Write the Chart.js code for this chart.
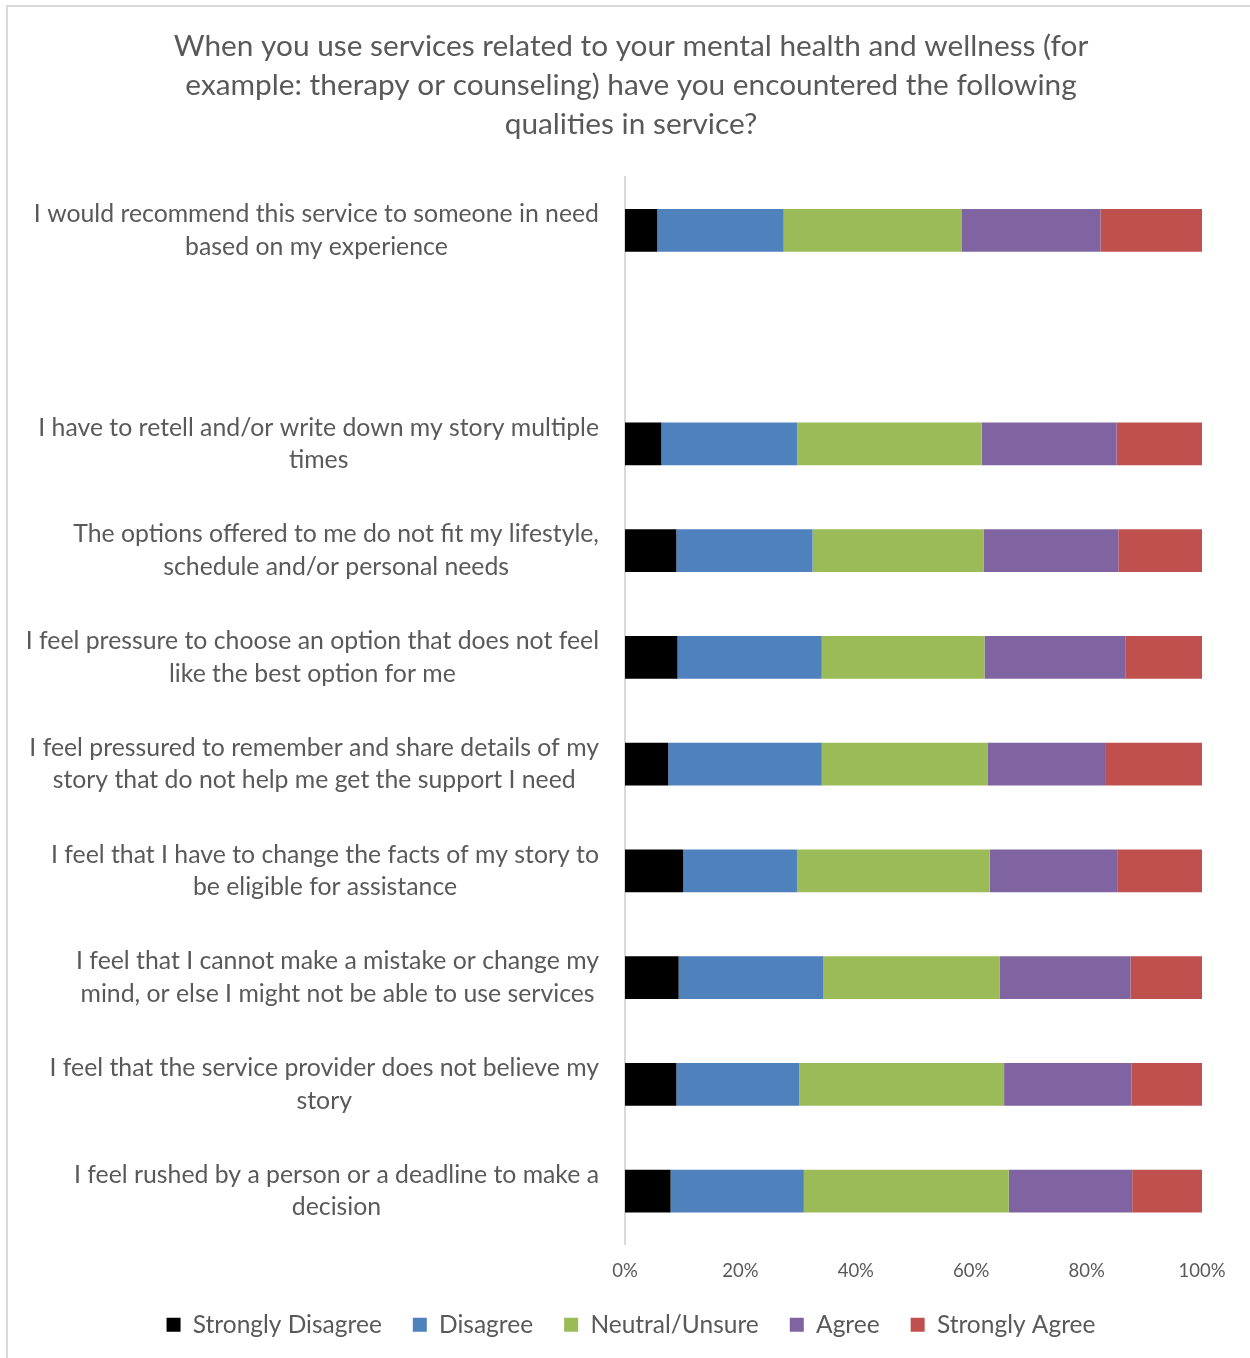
<!DOCTYPE html>
<html>
<head>
<meta charset="utf-8">
<script src="https://cdn.jsdelivr.net/npm/chart.js@4"></script>
<style>
  html, body { margin: 0; padding: 0; background: #fff; overflow: hidden; }
  #wrap { position: relative; width: 1250px; height: 1358px; }
  #marco { position: absolute; left: 6px; top: 5px; width: 1300px; height: 1400px; border: 2px solid #d9d9d9; }
  #grafico { position: absolute; left: 0; top: 0; }
</style>
</head>
<body>
<div id="wrap">
  <div id="marco"></div>
  <canvas id="grafico" width="1250" height="1358"></canvas>
</div>
<script>
// Titulo del grafico
const titulo = [
  "When you use services related to your mental health and wellness (for",
  "example: therapy or counseling) have you encountered the following",
  "qualities in service?"
];

// Categorias (la segunda queda vacia, como en el original)
const categorias = [
  ["I would recommend this service to someone in need", "based on my experience"],
  [],
  ["I have to retell and/or write down my story multiple", "times"],
  ["The options offered to me do not fit my lifestyle,", "schedule and/or personal needs"],
  ["I feel pressure to choose an option that does not feel", "like the best option for me"],
  ["I feel pressured to remember and share details of my", "story that do not help me get the support I need"],
  ["I feel that I have to change the facts of my story to", "be eligible for assistance"],
  ["I feel that I cannot make a mistake or change my", "mind, or else I might not be able to use services"],
  ["I feel that the service provider does not believe my", "story"],
  ["I feel rushed by a person or a deadline to make a", "decision"]
];

const series = ["Strongly Disagree", "Disagree", "Neutral/Unsure", "Agree", "Strongly Agree"];

// Porcentajes por serie
const stronglyDisagree = [5.6, null, 6.3, 8.9, 9.1, 7.5, 10.1, 9.3, 8.9, 7.9];
const disagree         = [21.9, null, 23.5, 23.6, 25.0, 26.6, 19.7, 25.1, 21.3, 23.1];
const neutral          = [30.8, null, 32.0, 29.7, 28.2, 28.8, 33.4, 30.5, 35.5, 35.5];
const agree            = [24.1, null, 23.4, 23.3, 24.4, 20.3, 22.1, 22.7, 22.1, 21.4];
const stronglyAgree    = [17.6, null, 14.8, 14.5, 13.3, 16.8, 14.7, 12.4, 12.2, 12.1];

const colores = ["#000000", "#4F81BD", "#9BBB59", "#8064A2", "#C0504D"];
const gris = "#595959";
const fuente = "Lato";

document.addEventListener("DOMContentLoaded", function () {
  grafico();
});

// Dibuja las etiquetas del eje Y: bloque alineado a la derecha, lineas centradas
const etiquetasY = {
  id: "etiquetasY",
  afterDraw(chart) {
    const ctx = chart.ctx;
    const yScale = chart.scales.y;
    ctx.save();
    ctx.font = "24.8px " + fuente;
    ctx.fillStyle = gris;
    ctx.textAlign = "center";
    ctx.textBaseline = "middle";
    const derecha = yScale.right - 26;
    categorias.forEach((lineas, i) => {
      if (!lineas.length) return;
      const yc = yScale.getPixelForValue(i);
      const ancho = Math.max(...lineas.map((l) => ctx.measureText(l).width));
      const cx = derecha - ancho / 2;
      lineas.forEach((l, j) => {
        ctx.fillText(l, cx, yc + (j - (lineas.length - 1) / 2) * 32.5);
      });
    });
    ctx.restore();
  }
};

function grafico() {
  Chart.defaults.font.family = fuente;
  const ctx = document.getElementById("grafico").getContext("2d");
  const valores = [stronglyDisagree, disagree, neutral, agree, stronglyAgree];

  new Chart(ctx, {
    type: "bar",
    data: {
      labels: categorias.map((l) => l.join(" ")),
      datasets: series.map((nombre, k) => ({
        label: nombre,
        data: valores[k],
        backgroundColor: colores[k],
        borderWidth: 0,
        categoryPercentage: 0.4,
        barPercentage: 1.0
      }))
    },
    options: {
      indexAxis: "y",
      responsive: false,
      animation: false,
      layout: { padding: { top: 0, right: 48, bottom: 11, left: 60 } },
      scales: {
        x: {
          stacked: true,
          min: 0,
          max: 100,
          grid: { display: false, drawTicks: false },
          border: { display: false },
          ticks: {
            stepSize: 20,
            color: gris,
            font: { size: 18.5 },
            padding: 15,
            callback: (v) => v + "%"
          },
          afterFit: (scale) => { scale.height = 37; }
        },
        y: {
          stacked: true,
          grid: { display: false, drawTicks: false },
          border: { display: true, color: "#d9d9d9", width: 2 },
          ticks: { display: false },
          afterFit: (scale) => { scale.width = 565; }
        }
      },
      plugins: {
        title: {
          display: true,
          text: titulo,
          color: gris,
          font: { size: 29.8, weight: "normal", lineHeight: 1.309 },
          padding: { top: 27, bottom: 33 }
        },
        legend: {
          position: "bottom",
          labels: {
            boxWidth: 14,
            boxHeight: 14,
            color: gris,
            font: { size: 24.5 },
            padding: 31
          }
        },
        tooltip: { enabled: false }
      }
    },
    plugins: [etiquetasY]
  });
}
</script>
</body>
</html>
